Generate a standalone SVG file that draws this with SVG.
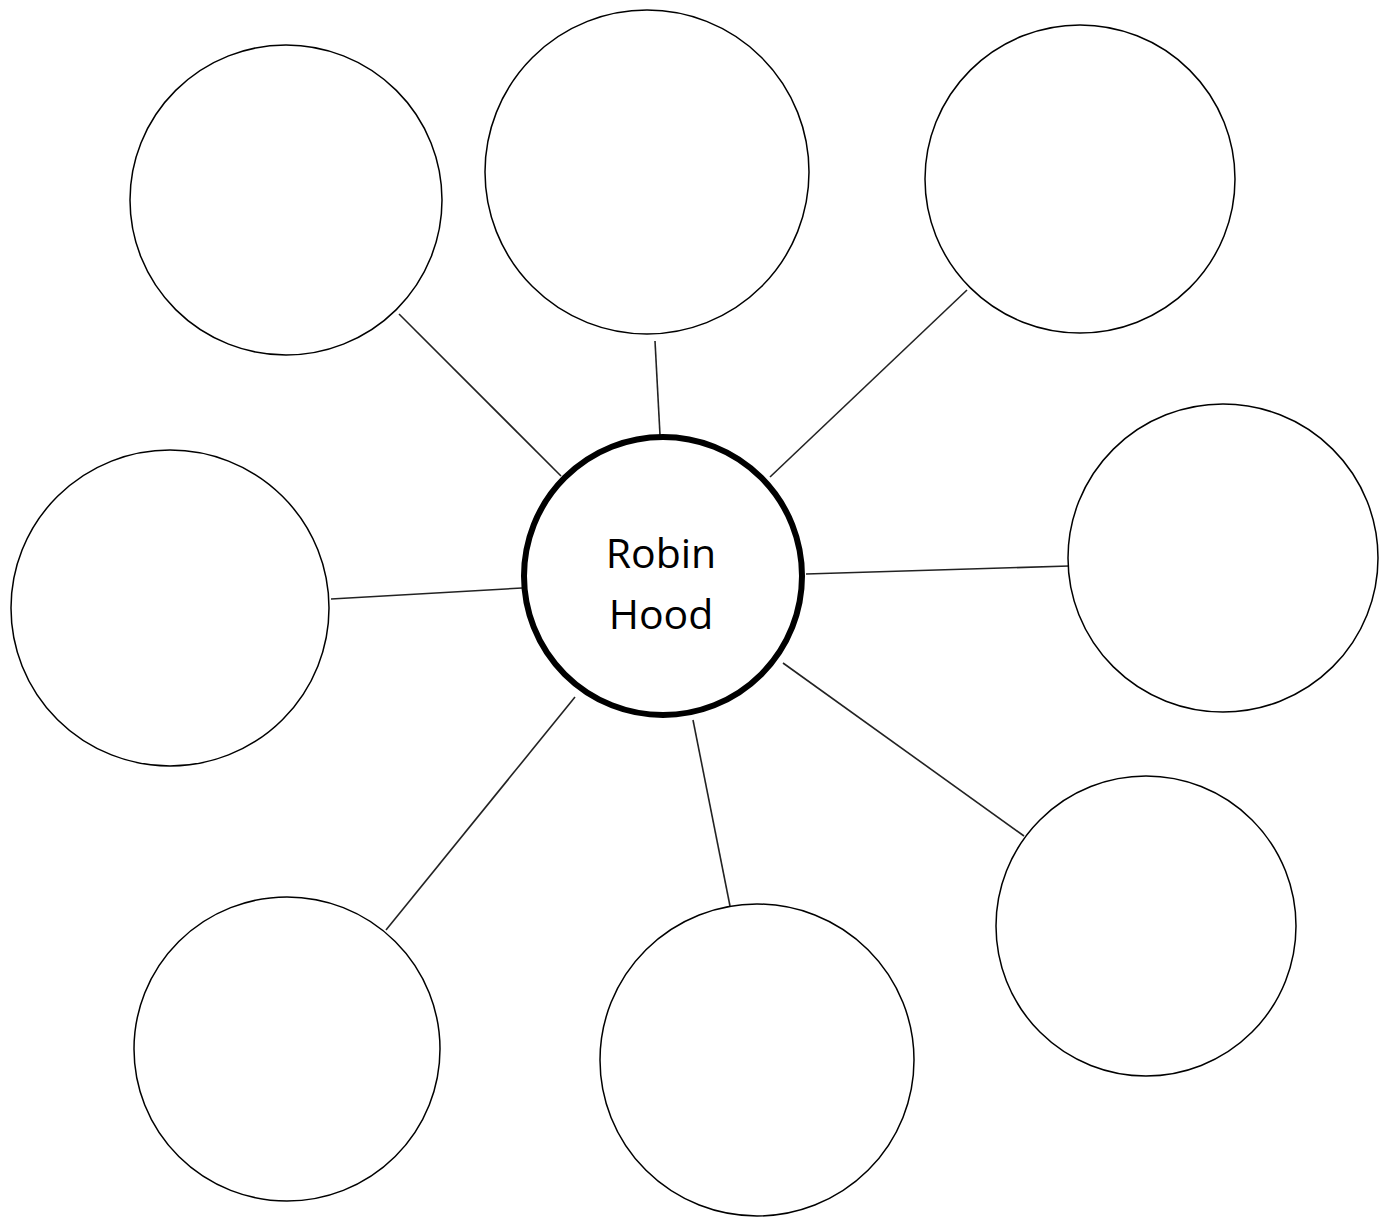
<svg xmlns="http://www.w3.org/2000/svg" width="1391" height="1218" viewBox="0 0 1391 1218">
<style>
.n{fill:#fff;stroke:#000;stroke-width:1.5}
.c{fill:#fff;stroke:#000;stroke-width:6}
.l{stroke:#222;stroke-width:1.6}
.t{font-family:"Open Sans","Liberation Sans",sans-serif;font-size:41px;fill:#000;text-anchor:middle}
</style>
<rect width="1391" height="1218" fill="#fff"/>
<g id="connectors">
<line class="l" x1="399" y1="314" x2="561" y2="476"/>
<line class="l" x1="655" y1="341" x2="660" y2="435"/>
<line class="l" x1="967" y1="290" x2="770" y2="477"/>
<line class="l" x1="331" y1="599" x2="522" y2="588"/>
<line class="l" x1="806" y1="574" x2="1069" y2="566"/>
<line class="l" x1="783" y1="663" x2="1024" y2="836"/>
<line class="l" x1="693" y1="720" x2="730" y2="906"/>
<line class="l" x1="575" y1="697" x2="386" y2="930"/>
</g>
<g id="n1"><ellipse class="n" cx="286" cy="200" rx="156" ry="155"/></g>
<g id="n2"><ellipse class="n" cx="647" cy="172" rx="162" ry="162"/></g>
<g id="n3"><ellipse class="n" cx="1080" cy="179" rx="155" ry="154"/></g>
<g id="n4"><ellipse class="n" cx="170" cy="608" rx="159" ry="158"/></g>
<g id="n5"><ellipse class="n" cx="1223" cy="558" rx="155" ry="154"/></g>
<g id="n6"><ellipse class="n" cx="1146" cy="926" rx="150" ry="150"/></g>
<g id="n7"><ellipse class="n" cx="757" cy="1060" rx="157" ry="156"/></g>
<g id="n8"><ellipse class="n" cx="287" cy="1049" rx="153" ry="152"/></g>
<g id="center">
<circle class="c" cx="663" cy="576" r="139"/>
<text class="t" x="661" y="568">Robin</text>
<text class="t" x="661" y="629">Hood</text>
</g>
</svg>
